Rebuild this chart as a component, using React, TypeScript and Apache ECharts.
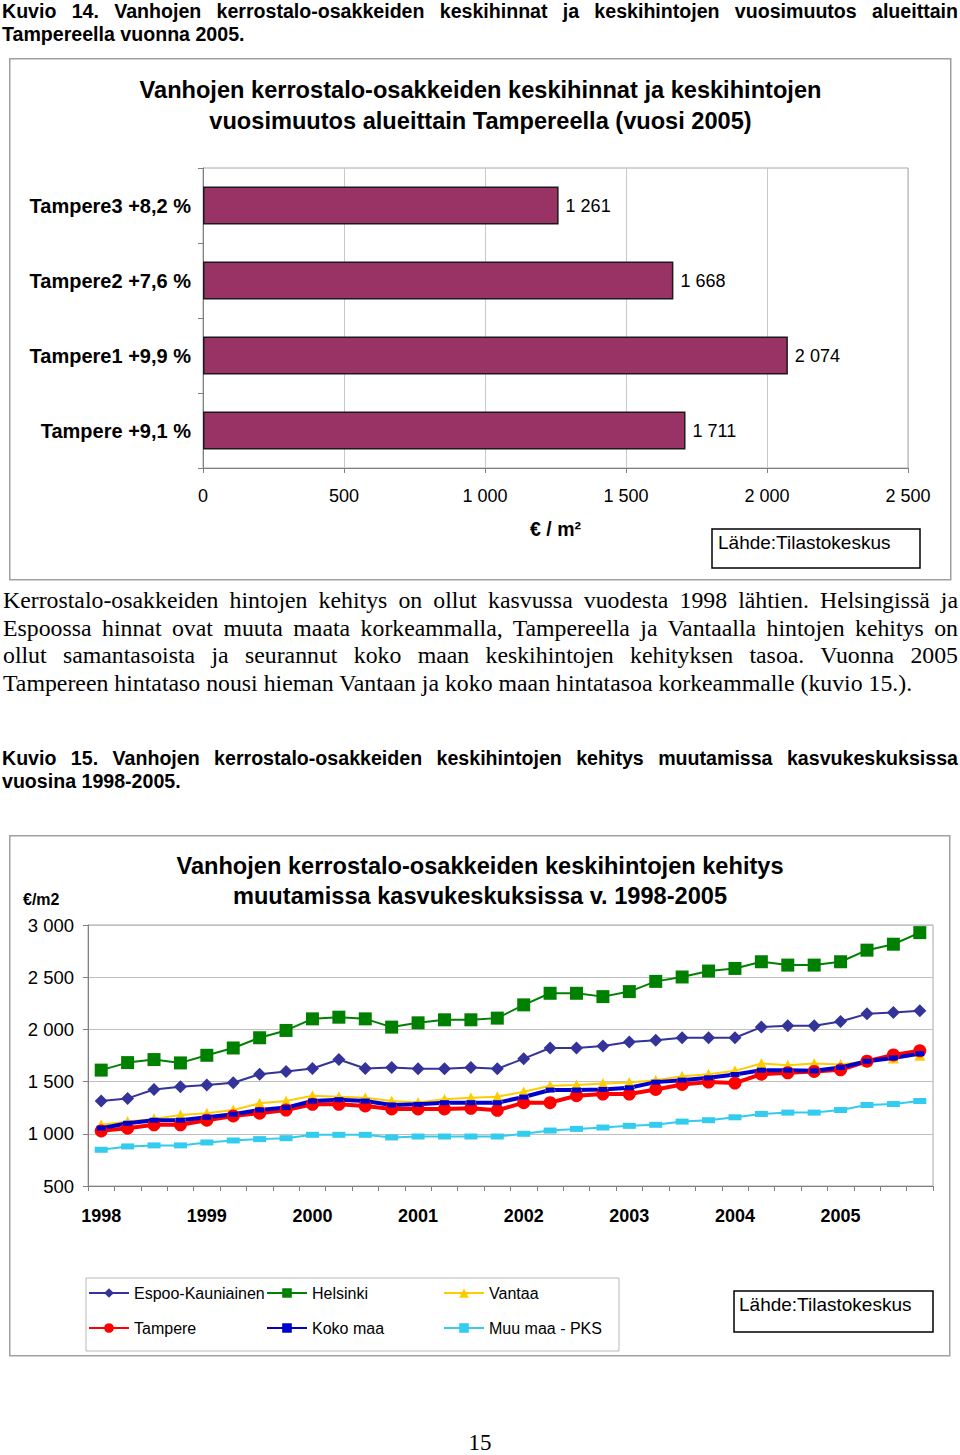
import React, { useEffect, useRef } from 'react';
import * as echarts from 'echarts';

// ---------- Chart 1 data (Kuvio 14) ----------
const barCategories = ['Tampere +9,1 %', 'Tampere1 +9,9 %', 'Tampere2 +7,6 %', 'Tampere3 +8,2 %'];
const barValues = [1711, 2074, 1668, 1261];
const barAxisMin = 0;
const barAxisMax = 2500;
const barAxisStep = 500;

// ---------- Chart 2 data (Kuvio 15), quarterly 1998-2005 ----------
const years = ['1998', '1999', '2000', '2001', '2002', '2003', '2004', '2005'];
const quarterNames = ['Q1', 'Q2', 'Q3', 'Q4'];
const quarterCategories = years.flatMap((y) => quarterNames.map((q) => `${y} ${q}`));

const seriesNames = ['Espoo-Kauniainen', 'Helsinki', 'Vantaa', 'Tampere', 'Koko maa', 'Muu maa - PKS'];

const espoo = [1314, 1339, 1425, 1451, 1467, 1489, 1571, 1597, 1625, 1711, 1625, 1635, 1622, 1622, 1635, 1622,
  1720, 1822, 1822, 1841, 1879, 1895, 1920, 1920, 1920, 2022, 2035, 2035, 2076, 2149, 2162, 2178];
const helsinki = [1610, 1682, 1711, 1679, 1752, 1822, 1920, 1990, 2101, 2117, 2101, 2022, 2063, 2092, 2092, 2108,
  2235, 2346, 2346, 2314, 2362, 2460, 2502, 2559, 2584, 2648, 2616, 2616, 2648, 2759, 2816, 2927];
const vantaa = [1086, 1117, 1143, 1181, 1197, 1228, 1292, 1314, 1365, 1355, 1346, 1314, 1301, 1330, 1346, 1355,
  1403, 1460, 1467, 1482, 1492, 1514, 1552, 1571, 1603, 1673, 1657, 1673, 1663, 1695, 1727, 1752];
const tampere = [1028, 1054, 1086, 1086, 1130, 1171, 1197, 1228, 1282, 1282, 1267, 1238, 1238, 1238, 1244, 1225,
  1298, 1298, 1365, 1381, 1381, 1425, 1473, 1495, 1486, 1571, 1584, 1597, 1613, 1695, 1755, 1795];
const kokoMaa = [1054, 1101, 1130, 1130, 1158, 1187, 1228, 1251, 1314, 1327, 1314, 1276, 1282, 1298, 1298, 1298,
  1352, 1419, 1419, 1425, 1441, 1495, 1514, 1536, 1568, 1609, 1609, 1603, 1635, 1695, 1727, 1768];
const muuMaa = [847, 879, 889, 889, 917, 936, 949, 958, 990, 990, 990, 965, 974, 974, 974, 974,
  1000, 1031, 1047, 1060, 1076, 1086, 1117, 1130, 1158, 1190, 1203, 1203, 1228, 1276, 1285, 1314];
const lineAxisMin = 500;
const lineAxisMax = 3000;
const lineAxisStep = 500;

const SANS = '"Liberation Sans", Arial, sans-serif';
const SERIF = '"Liberation Serif", "Times New Roman", serif';

const fmt = (v: number | string) => String(v).replace(/\B(?=(\d{3})+(?!\d))/g, ' ');

const chart1Option = {
  animation: false,
  textStyle: { fontFamily: SANS },
  title: {
    text: 'Vanhojen kerrostalo-osakkeiden keskihinnat ja keskihintojen\nvuosimuutos alueittain Tampereella (vuosi 2005)',
    left: 'center',
    top: 11,
    textStyle: { fontFamily: SANS, fontSize: 23.6, fontWeight: 'bold', color: '#000', lineHeight: 31 },
  },
  grid: { left: 194, top: 110, width: 705, height: 300, show: true, borderColor: '#a8a8a8', borderWidth: 1 },
  xAxis: {
    type: 'value',
    min: barAxisMin,
    max: barAxisMax,
    interval: barAxisStep,
    axisLine: { show: true, lineStyle: { color: '#808080' } },
    axisTick: { show: true, length: 5, lineStyle: { color: '#808080' } },
    splitLine: { show: true, lineStyle: { color: '#c8c8c8' } },
    axisLabel: { fontSize: 18, color: '#000', margin: 19, formatter: (v: number) => fmt(v) },
    name: '€ / m²',
    nameLocation: 'middle',
    nameGap: 51,
    nameTextStyle: { fontFamily: SANS, fontSize: 19.5, fontWeight: 'bold', color: '#000' },
  },
  yAxis: {
    type: 'category',
    data: barCategories,
    axisLine: { show: true, lineStyle: { color: '#808080' } },
    axisTick: { show: true, length: 5, lineStyle: { color: '#808080' } },
    axisLabel: { fontSize: 20, fontWeight: 'bold', color: '#000', margin: 12 },
  },
  series: [
    {
      type: 'bar',
      data: barValues,
      barWidth: 38,
      itemStyle: { color: '#993366', borderColor: '#1a1a1a', borderWidth: 1.5 },
      label: {
        show: true,
        position: 'right',
        distance: 7,
        fontSize: 18,
        color: '#000',
        formatter: (p: any) => fmt(p.value),
      },
    },
  ],
  graphic: [
    { type: 'rect', shape: { x: 0.75, y: 0.75, width: 941, height: 521 }, style: { fill: 'none', stroke: '#a0a0a0', lineWidth: 1.5 } },
    { type: 'rect', shape: { x: 703, y: 471, width: 208, height: 39 }, style: { fill: '#fff', stroke: '#000', lineWidth: 1.5 } },
    { type: 'text', x: 709, y: 484, style: { text: 'Lähde:Tilastokeskus', fontFamily: SANS, fontSize: 19, fill: '#000', verticalAlign: 'middle' } },
  ],
};

const lineStyles = [
  { color: '#333399', width: 2, symbol: 'diamond', symbolSize: 13, data: espoo },
  { color: '#008000', width: 2, symbol: 'rect', symbolSize: 13, data: helsinki },
  { color: '#FFCC00', width: 2, symbol: 'triangle', symbolSize: 11, data: vantaa },
  { color: '#FF0000', width: 4, symbol: 'circle', symbolSize: 13, data: tampere },
  { color: '#0000CC', width: 4, symbol: 'rect', symbolSize: [9, 5], data: kokoMaa },
  { color: '#33CCEE', width: 2, symbol: 'rect', symbolSize: [13, 6], data: muuMaa },
];

const legendPos = [[79, 450], [257, 450], [434, 450], [79, 485], [257, 485], [434, 485]];

const chart2Option = {
  animation: false,
  textStyle: { fontFamily: SANS },
  title: {
    text: 'Vanhojen kerrostalo-osakkeiden keskihintojen kehitys\nmuutamissa kasvukeskuksissa v. 1998-2005',
    left: 'center',
    top: 11,
    textStyle: { fontFamily: SANS, fontSize: 23.6, fontWeight: 'bold', color: '#000', lineHeight: 30 },
  },
  grid: { left: 79, top: 90, width: 845, height: 261, show: true, borderColor: '#a8a8a8', borderWidth: 1 },
  xAxis: {
    type: 'category',
    data: quarterCategories,
    boundaryGap: true,
    axisLine: { show: true, lineStyle: { color: '#808080' } },
    axisTick: { show: true, interval: 0, length: 5, alignWithLabel: false, lineStyle: { color: '#808080' } },
    axisLabel: {
      interval: 3,
      fontSize: 18,
      fontWeight: 'bold',
      color: '#000',
      margin: 21,
      formatter: (v: string) => v.split(' ')[0],
    },
  },
  yAxis: {
    type: 'value',
    min: lineAxisMin,
    max: lineAxisMax,
    interval: lineAxisStep,
    axisLine: { show: true, lineStyle: { color: '#808080' } },
    axisTick: { show: true, length: 5, lineStyle: { color: '#808080' } },
    splitLine: { show: true, lineStyle: { color: '#c0c0c0' } },
    axisLabel: { fontSize: 18.5, color: '#000', margin: 14, formatter: (v: number) => fmt(v) },
  },
  legend: seriesNames.map((n, i) => ({
    data: [n],
    left: legendPos[i][0],
    top: legendPos[i][1],
    padding: 0,
    itemWidth: 40,
    itemHeight: 12,
    textStyle: { fontFamily: SANS, fontSize: 16, color: '#000' },
  })),
  series: seriesNames.map((n, i) => ({
    name: n,
    type: 'line',
    data: lineStyles[i].data,
    symbol: lineStyles[i].symbol,
    symbolSize: lineStyles[i].symbolSize,
    lineStyle: { color: lineStyles[i].color, width: lineStyles[i].width },
    itemStyle: { color: lineStyles[i].color },
  })),
  graphic: [
    { type: 'rect', shape: { x: 0.75, y: 0.75, width: 940, height: 520 }, style: { fill: 'none', stroke: '#a0a0a0', lineWidth: 1.5 } },
    { type: 'rect', shape: { x: 77, y: 443, width: 533, height: 73 }, style: { fill: 'none', stroke: '#b8b8b8', lineWidth: 1 } },
    { type: 'text', x: 14, y: 64, style: { text: '€/m2', fontFamily: SANS, fontSize: 16, fontWeight: 'bold', fill: '#000', verticalAlign: 'middle' } },
    { type: 'rect', shape: { x: 725, y: 456, width: 199, height: 41 }, style: { fill: '#fff', stroke: '#000', lineWidth: 1.5 } },
    { type: 'text', x: 730, y: 469, style: { text: 'Lähde:Tilastokeskus', fontFamily: SANS, fontSize: 19, fill: '#000', verticalAlign: 'middle' } },
  ],
};

const justifyLine: React.CSSProperties = { textAlign: 'justify', textAlignLast: 'justify', whiteSpace: 'nowrap' };

export default function App() {
  const ref1 = useRef<HTMLDivElement>(null);
  const ref2 = useRef<HTMLDivElement>(null);

  useEffect(() => {
    const c1 = echarts.init(ref1.current!, null, { renderer: 'svg' });
    c1.setOption(chart1Option as any);
    const c2 = echarts.init(ref2.current!, null, { renderer: 'svg' });
    c2.setOption(chart2Option as any);
    return () => {
      c1.dispose();
      c2.dispose();
    };
  }, []);

  return (
    <div style={{ position: 'absolute', left: 0, top: 0, width: 960, height: 1455, background: '#fff', overflow: 'hidden', color: '#000' }}>
      <div style={{ position: 'absolute', left: 2, top: 0, width: 956, fontFamily: SANS, fontWeight: 'bold', fontSize: 19.6, lineHeight: '22.5px' }}>
        <div style={justifyLine}>Kuvio 14. Vanhojen kerrostalo-osakkeiden keskihinnat ja keskihintojen vuosimuutos alueittain</div>
        <div>Tampereella vuonna 2005.</div>
      </div>

      <div ref={ref1} style={{ position: 'absolute', left: 9, top: 58, width: 943, height: 523 }} />

      <div style={{ position: 'absolute', left: 3, top: 587, width: 955, fontFamily: SERIF, fontSize: 23.8, lineHeight: '27.7px' }}>
        <div style={justifyLine}>Kerrostalo-osakkeiden hintojen kehitys on ollut kasvussa vuodesta 1998 lähtien. Helsingissä ja</div>
        <div style={justifyLine}>Espoossa hinnat ovat muuta maata korkeammalla, Tampereella ja Vantaalla hintojen kehitys on</div>
        <div style={justifyLine}>ollut samantasoista ja seurannut koko maan keskihintojen kehityksen tasoa. Vuonna 2005</div>
        <div style={{ whiteSpace: 'nowrap' }}>Tampereen hintataso nousi hieman Vantaan ja koko maan hintatasoa korkeammalle (kuvio 15.).</div>
      </div>

      <div style={{ position: 'absolute', left: 2, top: 747, width: 956, fontFamily: SANS, fontWeight: 'bold', fontSize: 19.6, lineHeight: '23px' }}>
        <div style={justifyLine}>Kuvio 15. Vanhojen kerrostalo-osakkeiden keskihintojen kehitys muutamissa kasvukeskuksissa</div>
        <div>vuosina 1998-2005.</div>
      </div>

      <div ref={ref2} style={{ position: 'absolute', left: 9, top: 835, width: 942, height: 522 }} />

      <div style={{ position: 'absolute', left: 430, top: 1432, width: 100, textAlign: 'center', fontFamily: SERIF, fontSize: 23, lineHeight: '22px' }}>15</div>
    </div>
  );
}
